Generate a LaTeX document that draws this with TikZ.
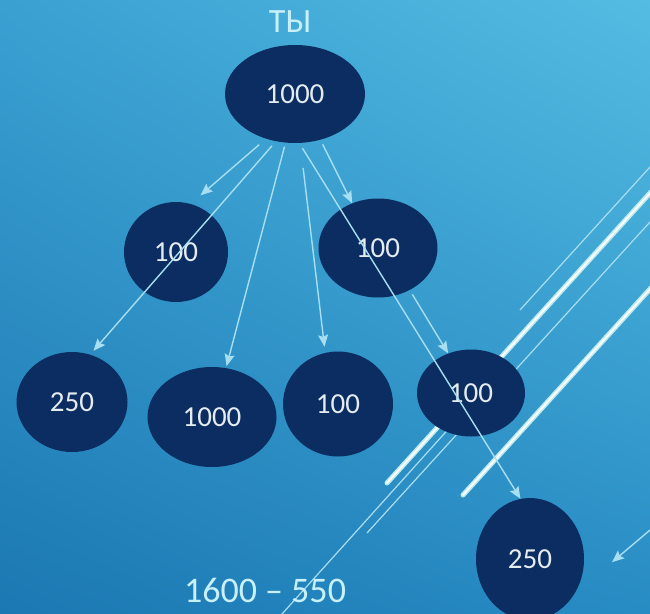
\documentclass[tikz,border=0pt]{standalone}
\usepackage{fontspec}
\setmainfont{Carlito}
\usetikzlibrary{arrows.meta,shapes.geometric,shadings}

\definecolor{navy}{RGB}{12,45,97}
\definecolor{pale}{RGB}{168,222,242}
\definecolor{numtxt}{RGB}{228,236,240}
\definecolor{captxt}{RGB}{200,240,248}
\definecolor{streakcol}{RGB}{190,236,236}
\definecolor{bgul}{RGB}{58,160,210}
\definecolor{bgur}{RGB}{84,188,226}
\definecolor{bgll}{RGB}{28,120,178}
\definecolor{bglr}{RGB}{40,140,196}

\begin{document}
\begin{tikzpicture}[x=1pt,y=-1pt,
		every node/.style={font=\fontsize{29}{31}\selectfont, text=numtxt},
		ball/.style={ellipse, fill=navy, inner sep=0pt},
		arr/.style={-{Stealth[length=12pt,width=10pt,inset=2pt]}, pale, line width=1.4pt},
		streak/.style={streakcol, line width=1.6pt, double=white, double distance=1.8pt, line cap=round},
		thin streak/.style={pale, line width=1.2pt}]
	\clip (0,0) rectangle (650,613);
	\shade[upper left=bgul, upper right=bgur, lower left=bgll, lower right=bglr] (0,0) rectangle (650,613);
	\draw[thin streak] (520,310) -- (670,145);
	\draw[streak] (387,483) -- (670,171);
	\draw[thin streak] (367,533) -- (670,200);
	\draw[thin streak] (273,624) -- (470,405);
	\draw[streak] (463,495) -- (670,267);
	\node[text=captxt, font=\fontsize{34}{36}\selectfont] (you) at (290,22) {ТЫ};
	\node[ball, minimum width=140pt, minimum height=98pt] (top) at (295,94) {1000};
	\node[ball, minimum width=104pt, minimum height=100pt] (m1) at (176,252) {100};
	\node[ball, minimum width=119pt, minimum height=99pt] (m2) at (378,248) {100};
	\node[ball, minimum width=111pt, minimum height=100pt] (b1) at (72,402) {250};
	\node[ball, minimum width=129pt, minimum height=100pt] (b2) at (212,417) {1000};
	\node[ball, minimum width=110pt, minimum height=105pt] (b3) at (338,404) {100};
	\node[ball, minimum width=108pt, minimum height=87pt] (b4) at (471,393) {100};
	\node[ball, minimum width=108pt, minimum height=122pt] (last) at (530,559) {250};
	\node[text=captxt, font=\fontsize{36}{38}\selectfont, inner sep=0pt, anchor=base] (sum) at (265,602) {1600 – 550};
	\coordinate (edge) at (669,514);
	\draw[arr, shorten <=9pt, shorten >=13pt] (top.237) -- (m1.73);
	\draw[arr, shorten <=6pt, shorten >=5pt] (top.248) -- (b1.69);
	\draw[arr, shorten <=4pt, shorten >=2pt] (top.259) -- (b2.74);
	\draw[arr, shorten <=25pt, shorten >=6pt] (top.276) -- (b3.104);
	\draw[arr, shorten <=6pt] (top.275) -- (last.99);
	\draw[arr, shorten <=5pt] (top.299) -- (m2.120);
	\draw[arr, shorten <=5pt] (m2.307) -- (b4.120);
	\draw[arr, shorten >=49pt] (edge) -- (last.-38);
\end{tikzpicture}
\end{document}
